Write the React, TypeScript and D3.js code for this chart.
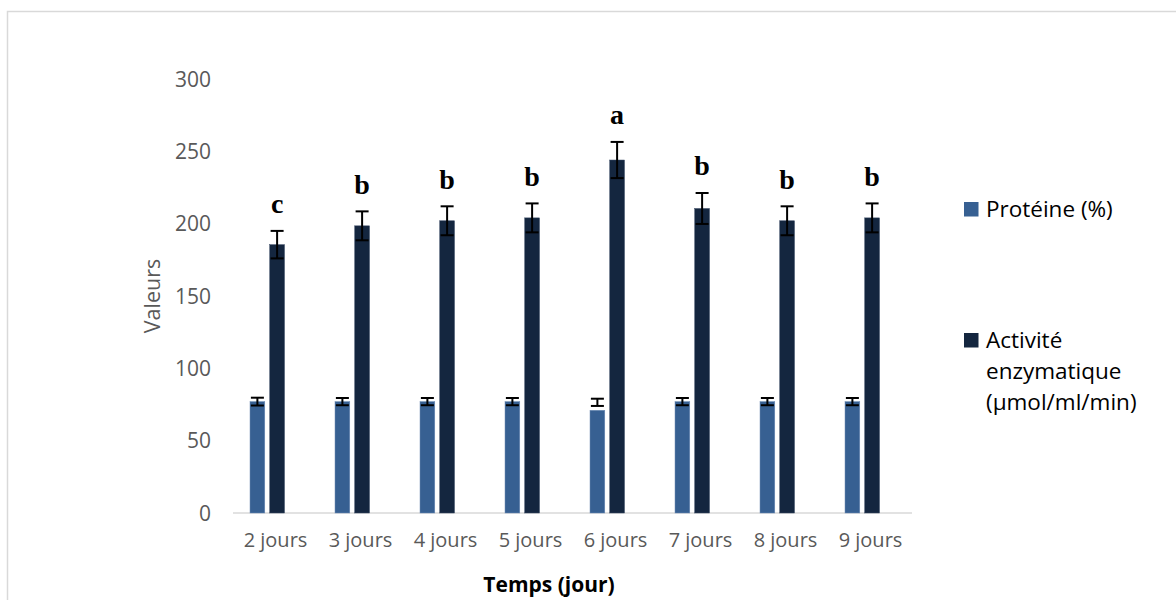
import React from "react";
import * as d3 from "d3";

const categories = ["2 jours", "3 jours", "4 jours", "5 jours", "6 jours", "7 jours", "8 jours", "9 jours"];
const proteine = [77, 77, 77, 77, 71, 77, 77, 77];
const proteineErrCenter = [77, 77, 77, 77, 76.5, 77, 77, 77];
const proteineErr = [2.7, 2.5, 2.5, 2.5, 2.5, 2.5, 2.5, 2.5];
const activite = [185.5, 198.5, 202, 204, 244, 210.5, 202, 204];
const activiteErr = [9.5, 10, 10, 10, 12.5, 10.7, 10, 10];
const letters = ["c", "b", "b", "b", "a", "b", "b", "b"];
const yTicks = [0, 50, 100, 150, 200, 250, 300];
const seriesNames = ["Protéine (%)", "Activité enzymatique (µmol/ml/min)"];
const legendLines = [["Protéine (%)"], ["Activité", "enzymatique", "(µmol/ml/min)"]];
const colors = ["#376092", "#14263f"];

const W = 1176;
const H = 600;
const FONT = "'Open Sans', 'Noto Sans', sans-serif";

export default function App() {
  const x0 = d3.scaleBand<string>().domain(categories).range([232, 912]).paddingInner(0).paddingOuter(0);
  const x1 = d3.scaleBand<string>().domain(seriesNames).range([18, 52.5]).paddingInner(0.25);
  const y = d3.scaleLinear().domain([0, 300]).range([513, 79]);
  const capW = 6.5;

  return (
    <div style={{ position: "fixed", left: 0, top: 0 }}>
      <svg width={W} height={H} style={{ display: "block", background: "#fff" }}>
        <rect x={7.5} y={11.5} width={1180} height={620} fill="#fff" stroke="#d9d9d9" strokeWidth={1.5} />
        {yTicks.map((t) => (
          <text key={t} x={211} y={y(t)} dy="0.36em" textAnchor="end" fontFamily={FONT} fontSize={21} fill="#595959">
            {t}
          </text>
        ))}
        <line x1={233} x2={912} y1={y(0)} y2={y(0)} stroke="#d9d9d9" strokeWidth={1.5} />
        {categories.map((c, i) => {
          const gx = x0(c)!;
          const px = gx + x1(seriesNames[0])!;
          const ax = gx + x1(seriesNames[1])!;
          const bw = x1.bandwidth();
          const pc = px + bw / 2;
          const ac = ax + bw / 2;
          const aTop = y(activite[i] + activiteErr[i]);
          return (
            <g key={c}>
              <rect x={px} y={y(proteine[i])} width={bw} height={y(0) - y(proteine[i])} fill={colors[0]} stroke="#6f8db5" strokeWidth={0.5} />
              <rect x={ax} y={y(activite[i])} width={bw} height={y(0) - y(activite[i])} fill={colors[1]} stroke="#3c4c66" strokeWidth={0.5} />
              <g stroke="#000" strokeWidth={2}>
                <line x1={pc} x2={pc} y1={y(proteineErrCenter[i] + proteineErr[i])} y2={y(proteineErrCenter[i] - proteineErr[i])} />
                <line x1={pc - capW} x2={pc + capW} y1={y(proteineErrCenter[i] + proteineErr[i])} y2={y(proteineErrCenter[i] + proteineErr[i])} />
                <line x1={pc - capW} x2={pc + capW} y1={y(proteineErrCenter[i] - proteineErr[i])} y2={y(proteineErrCenter[i] - proteineErr[i])} />
                <line x1={ac} x2={ac} y1={aTop} y2={y(activite[i] - activiteErr[i])} />
                <line x1={ac - capW} x2={ac + capW} y1={aTop} y2={aTop} />
                <line x1={ac - capW} x2={ac + capW} y1={y(activite[i] - activiteErr[i])} y2={y(activite[i] - activiteErr[i])} />
              </g>
              <text x={ac} y={aTop - 17.5} textAnchor="middle" fontFamily="'Liberation Serif', 'DejaVu Serif', serif" fontWeight="bold" fontSize={28} fill="#000">
                {letters[i]}
              </text>
              <text x={x0(c)! + x0.bandwidth() / 2 + 1} y={547} textAnchor="middle" fontFamily={FONT} fontSize={20} fill="#595959">
                {c}
              </text>
            </g>
          );
        })}
        <text x={549} y={592} textAnchor="middle" fontFamily={FONT} fontSize={21} fontWeight="bold" fill="#000">
          Temps (jour)
        </text>
        <text transform={`translate(160, 296) rotate(-90)`} textAnchor="middle" fontFamily={FONT} fontSize={21.5} fill="#595959">
          Valeurs
        </text>
        {legendLines.map((lines, i) => {
          const top = i === 0 ? 202 : 333;
          return (
            <g key={i}>
              <rect x={964} y={top} width={14.5} height={14.5} fill={colors[i]} />
              {lines.map((ln, j) => (
                <text key={j} x={986} y={top + 15 + j * 31} fontFamily={FONT} fontSize={22.5} fill="#000">
                  {ln}
                </text>
              ))}
            </g>
          );
        })}
      </svg>
    </div>
  );
}
